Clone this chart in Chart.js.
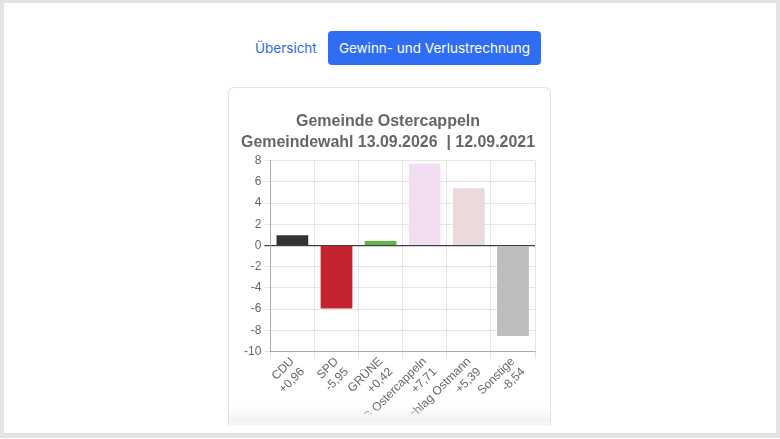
<!DOCTYPE html>
<html>
<head>
<meta charset="utf-8">
<script src="https://cdn.jsdelivr.net/npm/chart.js@4/dist/chart.umd.min.js"></script>
<style>
  html, body { margin: 0; padding: 0; background: #fff; }
  body { width: 780px; height: 439px; overflow: hidden; position: relative; font-family: Inter, "Noto Sans", sans-serif; }
  .frame { position: absolute; left: 0; top: 0; width: 772px; height: 430px; border: 4px solid #e4e4e4; border-top-width: 3px; border-bottom-width: 5px; }
  .link { position: absolute; left: 255px; top: 31px; line-height: 34px; font-size: 13.5px; color: #2f6be6; text-decoration: none; }
  .btn { position: absolute; left: 328px; top: 31px; width: 213px; height: 34px; line-height: 34px; text-align: center; font-size: 13.5px; background: #2f6ef2; color: #fff; border-radius: 4px; text-decoration: none; }
  .card { position: absolute; left: 228px; top: 87px; width: 321px; height: 338px; border: 1px solid #e2e2e2; border-bottom: none; border-radius: 6px 6px 0 0; overflow: hidden; }
  .clip { position: absolute; left: 8px; top: 12px; width: 306px; height: 314px; overflow: hidden; }
  .chartbox { position: absolute; left: 0; top: 0; width: 306px; height: 345px; }
  .fade { position: absolute; left: 0; right: 0; bottom: 0; height: 20px; background: linear-gradient(to bottom, rgba(255,255,255,0), #f3f3f3 70%, #f8f8f8); }
</style>
</head>
<body>
<div class="frame"></div>
<a href="#" class="link">Übersicht</a>
<a href="#" class="btn">Gewinn- und Verlustrechnung</a>
<div class="card">
  <div class="clip"><div class="chartbox"><canvas id="chart"></canvas></div></div>
  <div class="fade"></div>
</div>
<script>
/* ===== data ===== */
var parties = ["CDU", "SPD", "GRÜNE", "UWG Ostercappeln", "Vorschlag Ostmann", "Sonstige"];
var changes = [0.96, -5.95, 0.42, 7.71, 5.39, -8.54];
var barColors = ["#333333", "#c4242f", "#5cb83f", "#f2def2", "#ecd9d9", "#bdbdbd"];
var titleLines = ["Gemeinde Ostercappeln", "Gemeindewahl 13.09.2026  | 12.09.2021"];

// label: name + signed value with comma
var labels = parties.map(function(p, i) {
    var v = changes[i];
    return [p, (v > 0 ? "+" : "") + v.toFixed(2).replace(".", ",")];
});

Chart.defaults.font.family = "'Liberation Sans', Arial, Helvetica, sans-serif";
Chart.defaults.color = "#666";

var ctx = document.getElementById("chart");
var chart = new Chart(ctx, {
    type: 'bar',
    data: {
        labels: labels,
        datasets: [{
            data: changes,
            backgroundColor: barColors,
            borderWidth: 0
        }]
    },
    options: {
        responsive: true,
        maintainAspectRatio: false,
        animation: false,
        layout: { padding: { top: 0, left: 4, right: 8 } },
        plugins: {
            legend: { display: false },
            tooltip: { enabled: false },
            title: {
                display: true,
                text: titleLines,
                color: "#666",
                font: { size: 16, weight: 'bold', lineHeight: 1.3 },
                padding: { top: 11, bottom: 8 }
            }
        },
        scales: {
            x: {
                grid: { color: "rgba(0,0,0,0.1)", offset: true, tickLength: 7 },
                border: { color: "rgba(0,0,0,0.25)" },
                ticks: { autoSkip: false, minRotation: 45, maxRotation: 45, padding: -4, font: { size: 12 }, color: "#666" }
            },
            y: {
                min: -10,
                max: 8,
                ticks: { stepSize: 2, font: { size: 12 }, color: "#666" },
                grid: {
                    tickLength: 6,
                    color: function(c) { return c.tick && c.tick.value === 0 ? "rgba(0,0,0,0.75)" : "rgba(0,0,0,0.1)"; },
                    lineWidth: function(c) { return c.tick && c.tick.value === 0 ? 1.2 : 1; }
                },
                border: { color: "rgba(0,0,0,0.25)" }
            }
        }
    }
});
</script>
</body>
</html>
